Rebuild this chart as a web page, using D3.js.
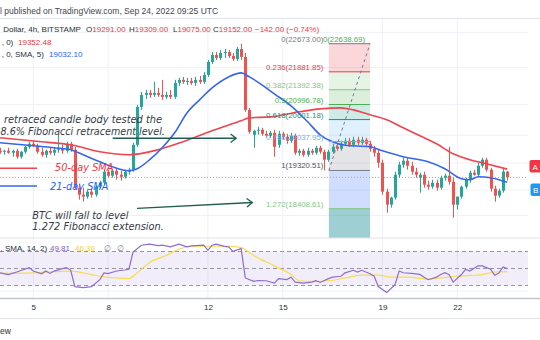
<!DOCTYPE html>
<html><head><meta charset="utf-8">
<script src="https://cdn.jsdelivr.net/npm/d3@7/dist/d3.min.js"></script>
<style>html,body{margin:0;padding:0;background:#fff}svg{display:block;font-family:'Liberation Sans',Arial,sans-serif}</style>
</head><body><svg id="chart" width="540" height="340"></svg>
<script>
// ---------------- data ----------------
// 4h candles, first visible bar = Sep 3 2022 16:00 (bar offset -8 from Sep 5 00:00)
const firstBarOffset = -8;
const open = [
19806,19781,19806,19756,19806,19657,19781,19906,19982,19931,
19781,19706,19806,19756,19831,19856,19806,19982,19831,18904,
18738,18691,18809,18738,18928,19023,19289,19192,19313,19216,
19168,19289,19338,19956,20935,21254,21308,21254,21308,21254,
21201,21254,21201,21579,21660,21606,21633,21579,21660,21606,
21797,22157,22353,22269,22409,22437,22325,22241,22522,22297,
20856,20210,20312,20338,20235,20184,20261,19956,20235,20159,
20057,20184,19756,19806,19706,19806,19756,19881,19781,19583,
19781,19906,19856,19982,20057,19956,20083,20007,20083,19982,
19856,19756,19509,18809,18503,18668,19216,19460,19558,19435,
19289,19144,19216,18976,18928,19023,18904,19144,19192,19047,
18503,18691,18928,19095,19265,19216,19435,19583,19338,18880,
18715,18833,19291];
const high = [
19881,19831,19881,19831,19856,19806,19931,20032,20057,19982,
19881,19831,19906,19881,20210,19956,20032,20032,19906,19000,
18904,18857,18880,18952,19071,19338,19338,19362,19362,19313,
19338,19386,20007,20988,21335,21389,21389,21606,21443,21660,
21335,21389,21660,21715,21742,21715,21715,21742,21770,21880,
22213,22437,22437,22494,22522,22494,22409,22580,22673,22409,
20909,20338,20415,20389,20312,20312,20338,20312,20287,20235,
20261,20235,19856,19856,19881,19856,19931,19931,19831,19831,
19982,19982,20057,20133,20133,20159,20159,20159,20133,20057,
19931,19831,19583,18880,18691,19289,19533,19632,19632,19533,
19386,19265,19289,19071,19095,19095,19192,19240,19906,19144,
18691,18952,19144,19313,19338,19509,19632,19632,19386,18952,
18880,19386,19309];
const low = [
19731,19706,19731,19657,19607,19607,19731,19856,19906,19731,
19657,19632,19706,19681,19756,19731,19756,19781,18857,18621,
18574,18644,18668,18691,18880,18976,19144,19144,19095,19071,
19120,19216,19289,19906,20856,21148,21174,21201,21201,21121,
21148,21148,21148,21497,21551,21524,21524,21497,21551,21551,
21742,22101,22213,22213,22269,22269,22185,22185,22213,20804,
20235,19881,20210,20184,20133,20133,19657,19881,20083,19982,
20007,19706,19681,19657,19657,19706,19706,19731,19320.51,19533,
19731,19806,19806,19931,19906,19906,19956,19956,19931,19781,
19657,19386,18738,18317,18433,18621,19144,19386,19338,19216,
19144,18786,18904,18857,18880,18833,18857,19071,18976,18202,
18387,18644,18880,19023,19192,19168,19386,19289,18809,18574,
18668,18786,19075];
const close = [
19781,19806,19756,19806,19657,19781,19906,19982,19931,19781,
19706,19806,19756,19831,19856,19806,19982,19831,18904,18738,
18691,18809,18738,18928,19023,19289,19192,19313,19216,19168,
19289,19338,19956,20935,21254,21308,21254,21308,21254,21201,
21254,21201,21579,21660,21606,21633,21579,21660,21606,21797,
22157,22353,22269,22409,22437,22325,22241,22522,22297,20856,
20287,20312,20338,20235,20184,20261,19906,20235,20159,20057,
20184,19756,19806,19706,19806,19756,19881,19781,19583,19781,
19906,19856,19982,20057,19956,20083,20007,20083,19982,19856,
19756,19509,18809,18503,18668,19216,19460,19558,19435,19289,
19216,19216,18976,18928,19023,18904,19144,19192,19047,18503,
18691,18928,19095,19265,19216,19435,19583,19338,18880,18715,
18833,19291,19152];

// moving averages (bar offset from Sep 5 00:00, price)
const sma50Bar = [-8,2,9,16,23,30,36,43,50,52,57,64,69,74,77,81,85,89,93,97,101,105,109,114];
const sma50Val = [20133,20032,19956,19781,19706,19831,20032,20312,20570,20647,20673,20804,20882,20909,20856,20726,20596,20389,20184,19982,19731,19583,19484,19352.48];
const sma21Bar = [-8,0,5,9,12,16,19,23,25,28,31,34,37,40,43,47,50,52,55,58,62,66,69,72,75,81,84,89,95,99,103,105,107,110,114];
const sma21Val = [20007,19931,19881,19831,19706,19533,19411,19313,19362,19583,19881,20261,20778,21121,21443,21742,21852,21742,21524,21281,20962,20544,20210,20032,19944,19906,19806,19657,19533,19362,19120,19095,19168,19144,19032.10];

// RSI (14) and its SMA (14)
const rsiBar = [-8,-6,-4,-1,0,2,3,4,5,7,8,9,10,12,14,16,17,18,20,22,23,24,26,28,30,31,33,35,37,38,41,42,43,44,46,47,48,50,51,53,54,56,58,59,61,62,63,65,67,68,69,71,72,74,75,77,78,79,81,82,83,85,87,88,89,91,93,94,95,97,98,99,100,101,103,104,105,107,108,110,111,112,113,114];
const rsiVal = [44.9,42.9,45.9,51.1,47.1,43.8,47.1,44.2,47,49.9,51.1,47.9,28.7,27.5,28.7,36.8,44.9,44,47.1,48.2,49.1,69.4,77.4,78.7,77,77.4,75.4,78.7,75.5,76.6,77.4,71.4,77.4,78.7,76,75.4,70.1,73.4,38.9,34.8,35.9,35.6,32.8,38.1,37,39.8,34,32.8,34,35.6,33.6,38.1,39.8,40.9,44.9,47.9,45.9,47.9,43.8,40.9,28.7,21.9,30.8,47.1,45,44.2,43,39.8,36.8,39.8,42.9,45,43,34,42.9,49.1,47,53.1,53,49.1,42.1,44.7,51.9,49.81];
const rsiMaBar = [-8,0,9,14,17,20,23,25,28,32,35,38,42,47,50,53,58,62,64,67,71,75,79,83,86,90,95,98,102,105,108,111,114];
const rsiMaVal = [44.2,44.9,47,42.9,40.1,38.9,38.1,44.9,57.2,65.3,72.6,76.2,76.2,76.2,74.6,65.3,53.1,42.9,35.6,34.8,35.6,38.9,42.1,42.1,39.8,39.8,37.6,38.9,40.9,41.8,42.9,45.9,46.3];

// Fibonacci retracement drawing
const fibLevels = ["0","0.236","0.382","0.5","0.618","0.786","1","1.272"];
const fibPrices = [22673.00,21881.85,21392.38,20996.78,20601.18,20037.95,19320.51,18408.61];
const fibLineColors = ["#787b86","#f23645","#81c784","#4caf50","#089981","#64b5f6","#787b86","#81c784"];
const fibLabelColors = ["#787b86","#f23645","#81c784","#4caf50","#089981","#64b5f6","#50535e","#81c784"];
const fibBandColors = ["rgba(242,54,69,0.2)","rgba(129,199,132,0.2)","rgba(76,175,80,0.2)","rgba(8,153,129,0.2)","rgba(100,181,246,0.2)","rgba(120,123,134,0.2)","rgba(41,98,255,0.22)","rgba(0,128,140,0.38)"];
const fibStartBar = 71.1, fibEndBar = 81;

const dayTicks = [5,8,12,15,19,22];
const priceGrid = [23000,22000,21000,20200,19500,18850,18250];
const rsiLevels = [70,50,30];

// ---------------- scales ----------------
const H4 = 4*3600e3;
const sep5 = Date.UTC(2022,8,5);
const barDate = k => new Date(sep5 + k*H4);
const x = d3.scaleUtc().domain([new Date(sep5), new Date(Date.UTC(2022,8,22))]).range([33.3,457.3]);
const y = d3.scaleLog().domain([17000,24000]).range([271.76,-1.35]);
const yr = d3.scaleLinear().domain([30,70]).range([285.5,251.5]);
const PR = 528; // right edge of panes
const mainTop = 19, mainBot = 238, rsiTop = 238.5, rsiBot = 298;

const svg = d3.select("#chart");
const defs = svg.append("defs");
defs.append("clipPath").attr("id","mainClip").append("rect").attr("x",0).attr("y",mainTop).attr("width",PR).attr("height",mainBot-mainTop);
defs.append("clipPath").attr("id","rsiClip").append("rect").attr("x",0).attr("y",rsiTop).attr("width",PR).attr("height",rsiBot-rsiTop);

// ---------------- header ----------------
svg.append("text").attr("x",0).attr("y",14).attr("font-size",8.5).attr("fill","#434651")
  .text("l published on TradingView.com, Sep 24, 2022 09:25 UTC");
svg.append("line").attr("x1",0).attr("x2",540).attr("y1",18.5).attr("y2",18.5).attr("stroke","#e0e3eb");

// ---------------- grid ----------------
const grid = svg.append("g");
const dayDates = dayTicks.map(d => new Date(Date.UTC(2022,8,d)));
grid.selectAll(".vg").data(dayDates).join("line")
  .attr("x1",d=>x(d)).attr("x2",d=>x(d)).attr("y1",mainTop).attr("y2",rsiBot)
  .attr("stroke","#eef1f6").attr("stroke-width",1);
grid.selectAll(".hg").data(priceGrid).join("line")
  .attr("x1",0).attr("x2",PR).attr("y1",d=>y(d)).attr("y2",d=>y(d))
  .attr("stroke","#eef1f6").attr("stroke-width",1);

// ---------------- main pane ----------------
const main = svg.append("g").attr("clip-path","url(#mainClip)");

// fib bands
const fx0 = x(barDate(fibStartBar)), fx1 = x(barDate(fibEndBar));
const bandBounds = fibPrices.map((p,i)=>[y(p), i<fibPrices.length-1 ? y(fibPrices[i+1]) : mainBot]);
main.selectAll(".band").data(bandBounds).join("rect")
  .attr("x",fx0).attr("width",fx1-fx0)
  .attr("y",d=>d[0]).attr("height",d=>d[1]-d[0])
  .attr("fill",(d,i)=>fibBandColors[i]);

// current price dotted line
main.append("line").attr("x1",0).attr("x2",PR+2).attr("y1",y(close[close.length-1])).attr("y2",y(close[close.length-1]))
  .attr("stroke","#f28b8b").attr("stroke-width",1).attr("stroke-dasharray","1,2");

// candles
const bars = open.map((o,i)=>({d:barDate(i+firstBarOffset),o,h:high[i],l:low[i],c:close[i]}));
const cg = main.append("g");
cg.selectAll(".wick").data(bars).join("line")
  .attr("x1",d=>Math.round(x(d.d))+0.5).attr("x2",d=>Math.round(x(d.d))+0.5)
  .attr("y1",d=>y(d.h)).attr("y2",d=>y(d.l))
  .attr("stroke",d=>d.c>=d.o?"#26a69a":"#ef5350").attr("stroke-width",1);
cg.selectAll(".body").data(bars).join("rect")
  .attr("x",d=>Math.round(x(d.d))-1).attr("width",3)
  .attr("y",d=>y(Math.max(d.o,d.c)))
  .attr("height",d=>Math.max(1,y(Math.min(d.o,d.c))-y(Math.max(d.o,d.c))))
  .attr("fill",d=>d.c>=d.o?"#26a69a":"#ef5350");

// moving averages
const maLine = d3.line().x(d=>x(barDate(d[0]))).y(d=>y(d[1])).curve(d3.curveMonotoneX);
main.append("path").attr("d",maLine(sma50Bar.map((b,i)=>[b,sma50Val[i]])))
  .attr("fill","none").attr("stroke","#f0444f").attr("stroke-width",1.6);
main.append("path").attr("d",maLine(sma21Bar.map((b,i)=>[b,sma21Val[i]])))
  .attr("fill","none").attr("stroke","#3566ee").attr("stroke-width",1.6);

// fib lines + trend line + labels
main.selectAll(".fl").data(fibPrices).join("line")
  .attr("x1",fx0).attr("x2",fx1).attr("y1",d=>y(d)).attr("y2",d=>y(d))
  .attr("stroke",(d,i)=>fibLineColors[i]).attr("stroke-width",1);
main.append("line")
  .attr("x1",fx0).attr("y1",y(fibPrices[6])).attr("x2",fx1).attr("y2",y(fibPrices[0]))
  .attr("stroke","#787b86").attr("stroke-width",1).attr("stroke-dasharray","3,3");
main.selectAll(".flab").data(fibPrices).join("text")
  .attr("x",fx0-5.5).attr("y",d=>y(d)-2).attr("text-anchor","end")
  .attr("font-size",7.8).attr("fill",(d,i)=>fibLabelColors[i])
  .text((d,i)=>`${fibLevels[i]}(${d.toFixed(2)})`);
main.append("text").attr("x",365).attr("y",y(fibPrices[0])-2).attr("text-anchor","end")
  .attr("font-size",7.8).attr("fill","#4caf50").text("0(22638.69)");

// annotations
const annoFont = "'DejaVu Sans',Verdana,sans-serif";
const ann = svg.append("g").attr("font-family",annoFont).attr("font-style","italic").attr("font-size",9.8);
ann.append("text").attr("x",162).attr("y",123).attr("text-anchor","end").attr("fill","#363a45").text("retraced candle body tested the");
ann.append("text").attr("x",0.5).attr("y",135).attr("font-size",9.6).attr("fill","#363a45").text("8.6% Fibonacci retracement level.");
ann.append("text").attr("x",32.3).attr("y",218.5).attr("fill","#363a45").text("BTC will fall to level");
ann.append("text").attr("x",32.3).attr("y",230).attr("fill","#363a45").text("1.272 Fibonacci extension.");
ann.append("text").attr("x",55).attr("y",171).attr("fill","#f23645").text("50-day SMA");
ann.append("text").attr("x",50).attr("y",189.5).attr("fill","#2962ff").text("21-day SMA");
svg.append("line").attr("x1",0).attr("x2",37).attr("y1",168.3).attr("y2",168.3).attr("stroke","#f0444f").attr("stroke-width",1.6);
svg.append("line").attr("x1",0).attr("x2",37).attr("y1",186).attr("y2",186).attr("stroke","#3566ee").attr("stroke-width",1.6);

// arrows (drawn in data coordinates)
const arrows = [
  {b0:19.1,p0:20121,b1:48.8,p1:20121},
  {b0:24.95,p0:18418,b1:52.7,p1:18554}
];
arrows.forEach(a=>{
  const x0=x(barDate(a.b0)), y0=y(a.p0), x1=x(barDate(a.b1)), y1=y(a.p1);
  const ang=Math.atan2(y1-y0,x1-x0), L=7, spread=0.65;
  const g=svg.append("g").attr("stroke","#1f5e4e").attr("stroke-width",1.3).attr("fill","none");
  g.append("line").attr("x1",x0).attr("y1",y0).attr("x2",x1).attr("y2",y1);
  g.append("path").attr("d",`M${x1-L*Math.cos(ang-spread)},${y1-L*Math.sin(ang-spread)}L${x1},${y1}L${x1-L*Math.cos(ang+spread)},${y1-L*Math.sin(ang+spread)}`);
});

// legend header
const hdr = svg.append("g").attr("font-size",8);
hdr.append("text").attr("x",3.3).attr("y",32).attr("fill","#2a2e39").text("Dollar, 4h, BITSTAMP");
const ohlc = [["O","19291.00",86],["H","19309.00",129],["L","19075.00",173],["C","19152.00",213]];
ohlc.forEach(o=>{
  const t=hdr.append("text").attr("x",o[2]).attr("y",32);
  t.append("tspan").attr("fill","#2a2e39").text(o[0]);
  t.append("tspan").attr("fill","#f23645").text(o[1]);
});
hdr.append("text").attr("x",255).attr("y",32).attr("fill","#f23645").text("\u2212142.00 (\u22120.74%)");
hdr.append("text").attr("x",1.7).attr("y",45).attr("fill","#2a2e39").text(", 0)");
hdr.append("text").attr("x",18).attr("y",45).attr("fill","#f23645").text("19352.48");
hdr.append("text").attr("x",1.7).attr("y",56.5).attr("fill","#2a2e39").text(", 0, SMA, 5)");
hdr.append("text").attr("x",49).attr("y",56.5).attr("fill","#2962ff").text("19032.10");

// right side labels
svg.append("rect").attr("x",529.5).attr("y",160).attr("width",14).attr("height",12.5).attr("rx",2).attr("fill","#f23645");
svg.append("text").attr("x",532.5).attr("y",169.5).attr("font-size",8).attr("fill","#fff").text("A");
svg.append("rect").attr("x",530.5).attr("y",183.5).attr("width",14).attr("height",12.5).attr("rx",2).attr("fill","#2196f3");
svg.append("text").attr("x",533).attr("y",193).attr("font-size",8).attr("fill","#fff").text("B");

// ---------------- RSI pane ----------------
svg.append("line").attr("x1",0).attr("x2",540).attr("y1",mainBot).attr("y2",mainBot).attr("stroke","#e0e3eb");
const rsiG = svg.append("g").attr("clip-path","url(#rsiClip)");
rsiG.append("rect").attr("x",0).attr("width",PR).attr("y",yr(70)).attr("height",yr(30)-yr(70)).attr("fill","rgba(126,87,194,0.1)");
rsiG.selectAll(".rl").data(rsiLevels).join("line")
  .attr("x1",0).attr("x2",PR).attr("y1",d=>yr(d)).attr("y2",d=>yr(d))
  .attr("stroke","#9598a1").attr("stroke-width",1).attr("stroke-dasharray","4,3");
rsiG.append("line").attr("x1",0).attr("x2",PR).attr("y1",291).attr("y2",291).attr("stroke","#eef1f6");
rsiG.append("path").attr("d",d3.line().x(d=>x(barDate(d[0]))).y(d=>yr(d[1])).curve(d3.curveMonotoneX)(rsiMaBar.map((b,i)=>[b,rsiMaVal[i]])))
  .attr("fill","none").attr("stroke","#f7dc4f").attr("stroke-width",1.2);
rsiG.append("path").attr("d",d3.line().x(d=>x(barDate(d[0]))).y(d=>yr(d[1]))(rsiBar.map((b,i)=>[b,rsiVal[i]])))
  .attr("fill","none").attr("stroke","#8e6cd0").attr("stroke-width",1.2);
const rl = svg.append("g").attr("font-size",8);
rl.append("text").attr("x",0.5).attr("y",251).attr("fill","#2a2e39").text(", SMA, 14, 2)");
rl.append("text").attr("x",50).attr("y",251).attr("fill","#7e57c2").text("49.81");
rl.append("text").attr("x",75).attr("y",251).attr("fill","#f5d13b").text("46.30");
rl.append("text").attr("x",104).attr("y",251).attr("fill","#787b86").text("\u2205");
rl.append("text").attr("x",117).attr("y",251).attr("fill","#787b86").text("\u2205");

// ---------------- time axis ----------------
svg.append("line").attr("x1",0).attr("x2",540).attr("y1",298.5).attr("y2",298.5).attr("stroke","#c3c6ce").attr("stroke-width",1.5);
const xAxis = d3.axisBottom(x).tickValues(dayDates).tickFormat(d3.utcFormat("%-d")).tickSize(0).tickPadding(0);
const ax = svg.append("g").attr("transform","translate(0,304)").call(xAxis);
ax.select(".domain").remove();
ax.selectAll("text").attr("font-size",8).attr("fill","#2a2e39").attr("font-family","'Liberation Sans',Arial,sans-serif").attr("dy","0.7em");
svg.append("line").attr("x1",0).attr("x2",540).attr("y1",318.5).attr("y2",318.5).attr("stroke","#e0e3eb");
svg.append("text").attr("x",0).attr("y",334).attr("font-size",8.5).attr("fill","#2a2e39").text("ew");
</script></body></html>
